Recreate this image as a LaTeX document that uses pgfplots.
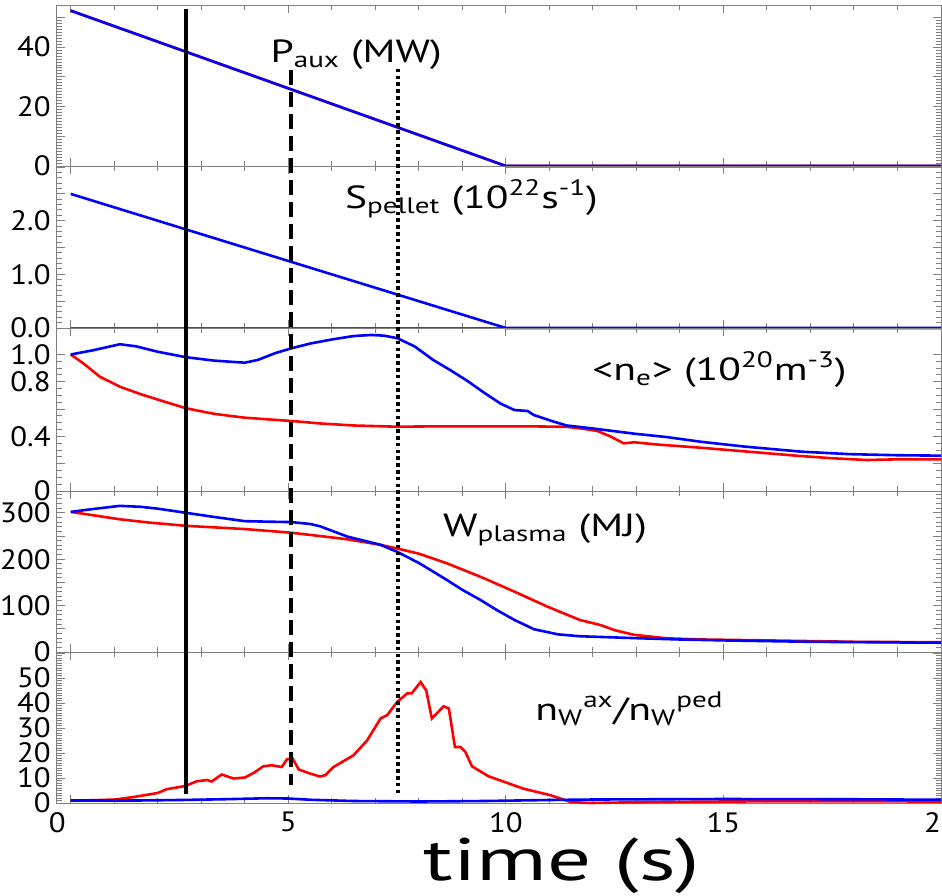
\documentclass[border=0pt]{standalone}
\usepackage{fontspec}
\setmainfont{PT Sans}[FakeStretch=1.1]
\newfontfamily\labfont{PT Sans}[FakeStretch=1.3]
\newfontfamily\timefont{PT Sans}[FakeStretch=1.45]
\usepackage{pgfplots}
\pgfplotsset{compat=1.18}

\begin{document}
\begin{tikzpicture}
\tikzset{
  rl/.style={red, line width=1.3pt},
  bl/.style={blue, line width=1.3pt},
  lab/.style={font=\labfont\fontsize{16}{18}\selectfont, anchor=base, inner sep=0pt},
}
\pgfplotsset{
  panel/.style={
    scale only axis, width=442pt, anchor=north west,
    xmin=-0.315, xmax=20,
    xtick={0,5,10,15,20}, minor xtick={0,1,...,20},
    xticklabels={},
    axis line style={black!50, line width=0.5pt},
    every tick/.style={black!50, line width=0.5pt},
    major tick length=4pt, minor tick length=2.5pt,
    tick label style={font=\fontsize{14}{16}\selectfont},
    /pgf/number format/assume math mode=true,
    yticklabel style={inner sep=0pt, xshift=-3pt},
    clip=false,
  },
}

% Panel 1: P_aux
\begin{axis}[panel, at={(0pt,0pt)}, height=80.5pt, ymin=0, ymax=54.2,
  ytick={0,10,20,30,40,50}, yticklabels={0,,20,,40,}, minor y tick num=9]
\addplot[rl] coordinates {(0,52.3) (10,0) (20,0)};
\addplot[bl] coordinates {(0,52.3) (10,0) (20,0)};
\node[lab] at (axis cs:6.56,34.8) {P\textsubscript{aux} (MW)};
\coordinate (a1) at (axis cs:2.65,52.9);
\coordinate (b1) at (axis cs:5.07,32.3);
\coordinate (c1) at (axis cs:7.51,32.7);
\end{axis}

% Panel 2: S_pellet
\begin{axis}[panel, at={(0pt,-80.5pt)}, height=81pt, ymin=0, ymax=3.02,
  ytick={0,0.5,1,1.5,2,2.5,3}, yticklabels={0.0,,1.0,,2.0,,}, minor y tick num=4]
\addplot[rl] coordinates {(0,0) (20,0)};
\addplot[bl] coordinates {(0,2.5) (10,0) (20,0)};
\node[lab] at (axis cs:9.21,2.23) {S\textsubscript{pellet} (10\textsuperscript{22}s\textsuperscript{-1})};
\end{axis}

% Panel 3: <n_e>
\begin{axis}[panel, at={(0pt,-161.5pt)}, height=81.5pt, ymin=0, ymax=1.194,
  ytick={0,0.2,0.4,0.6,0.8,1.0}, yticklabels={0,,0.4,,0.8,1.0}, minor y tick num=3]
\addplot[rl] coordinates {(0,1.0) (0.29,0.935) (0.67,0.837) (1.13,0.764) (1.6,0.71) (2.0,0.67)
 (2.65,0.606) (3.3,0.565) (4.0,0.537) (5.07,0.513) (5.73,0.495) (6.5,0.48) (7.5,0.471)
 (8.5,0.474) (9.5,0.474) (10.5,0.474) (11.4,0.47) (11.8,0.455) (12.1,0.44) (12.4,0.4)
 (12.71,0.349) (12.95,0.357) (13.5,0.34) (14.48,0.317) (15.5,0.29) (16.78,0.256)
 (17.5,0.24) (18.3,0.227) (19,0.232) (20,0.232)};
\addplot[bl] coordinates {(0,1.0) (0.5,1.03) (1.13,1.075) (1.5,1.06) (2.0,1.02) (2.65,0.98)
 (3.3,0.955) (4.0,0.94) (4.3,0.96) (4.7,1.01) (5.07,1.045) (5.5,1.08) (6.0,1.11) (6.5,1.135)
 (6.9,1.143) (7.2,1.138) (7.5,1.12) (7.9,1.06) (8.33,0.96) (8.7,0.89) (9.1,0.81) (9.5,0.72)
 (9.88,0.64) (10.2,0.593) (10.5,0.586) (10.64,0.557) (11.1,0.508) (11.4,0.48) (12.0,0.458)
 (12.95,0.42) (13.7,0.395) (14.5,0.36) (15.5,0.325) (16.8,0.288) (17.9,0.27) (19,0.262) (20,0.259)};
\node[lab] at (axis cs:14.91,0.813) {<n\textsubscript{e}> (10\textsuperscript{20}m\textsuperscript{-3})};
\end{axis}

% Panel 4: W_plasma
\begin{axis}[panel, at={(0pt,-243pt)}, height=80.5pt, ymin=0, ymax=347,
  ytick={0,50,...,350}, yticklabels={0,,100,,200,,300,}, minor y tick num=4]
\addplot[rl] coordinates {(0,302) (0.5,295) (1.13,286) (1.8,279) (2.65,272) (4.0,265) (4.82,259)
 (5.07,257) (5.73,250) (6.35,243) (7.12,231) (7.5,223) (8.0,212) (8.65,191) (9.42,162)
 (10.2,130) (10.95,98) (11.7,69) (12.18,58) (12.5,47) (12.95,37) (13.7,29.5) (14.5,27)
 (16,25) (18,22) (20,21)};
\addplot[bl] coordinates {(0,302) (0.5,308) (1.13,315) (1.6,313) (2.0,309) (2.65,300) (3.3,291)
 (4.0,282) (4.5,281) (5.07,280) (5.5,276) (5.73,271) (6.35,249) (7.12,231) (7.5,216)
 (8.0,192) (8.65,155) (9.0,134) (9.42,112) (9.8,90) (10.2,69) (10.65,49) (11.2,38)
 (11.7,34) (13.1,29.5) (14,27) (15,25) (17,22) (20,20)};
\node[lab] at (axis cs:10.9,248.5) {W\textsubscript{plasma} (MJ)};
\end{axis}

% Panel 5: n_W ratio
\begin{axis}[panel, at={(0pt,-323.5pt)}, height=75.5pt, ymin=0, ymax=60.4,
  ytick={0,10,...,60}, yticklabels={0,10,20,30,40,50,}, minor y tick num=9,
  xticklabels={\llap{0\kern2.5pt},5,10,15,20},
  xticklabel style={font=\fontsize{14}{16}\selectfont, yshift=-1pt}]
\addplot[rl] coordinates {(0,1) (0.5,1.1) (1.02,1.4) (1.44,2.4) (2.0,4) (2.2,5.5) (2.63,6.8)
 (2.9,8.7) (3.13,9.2) (3.24,8.6) (3.47,11.4) (3.74,9.8) (4.0,10.2) (4.2,12) (4.43,14.7)
 (4.62,15.1) (4.85,14.4) (4.97,17.5) (5.1,17.8) (5.24,13.4) (5.5,11.8) (5.73,10.6)
 (5.85,11.1) (6.04,14.4) (6.5,19.1) (6.81,25) (7.12,33.8) (7.27,35.1) (7.5,40.4)
 (7.73,43.8) (7.84,43.9) (8.04,48.4) (8.17,45) (8.3,33.8) (8.57,38.7) (8.69,37.8)
 (8.83,22.4) (8.96,22.4) (9.07,20.4) (9.22,14.7) (9.6,10.7) (10.41,5.7) (11.03,3.1)
 (11.49,0.4) (11.95,0) (13,0.3) (15,0.6) (17,0.7) (20,0.6)};
\addplot[bl] coordinates {(0,1.0) (1.5,1.0) (2.5,1.2) (3.5,1.5) (4.5,1.9) (5.0,1.8) (5.5,1.3)
 (6.5,0.8) (8,0.6) (9.5,0.8) (11,1.2) (12,1.4) (15,1.6) (18,1.5) (20,1.3)};
\node[lab] at (axis cs:12.84,33) {n\textsubscript{W}\textsuperscript{ax}/n\textsubscript{W}\textsuperscript{ped}};
\coordinate (a5) at (axis cs:2.65,3.5);
\coordinate (b5) at (axis cs:5.07,7.1);
\coordinate (c5) at (axis cs:7.51,3.9);
\end{axis}

\draw[black, line width=2.2pt] (a1) -- (a5);
\draw[black, line width=2pt, dash pattern=on 7.5pt off 3.5pt] (b1) -- (b5);
\draw[black, line width=2pt, dash pattern=on 1.8pt off 1.6pt] (c1) -- (c5);

\node[font=\timefont\fontsize{30}{32}\selectfont, anchor=base, inner sep=0pt] at (252.5pt,-437.5pt) {time (s)};

\pgfresetboundingbox
\useasboundingbox (-28.5pt,2.5pt) rectangle (442.5pt,-445pt);
\end{tikzpicture}
\end{document}
